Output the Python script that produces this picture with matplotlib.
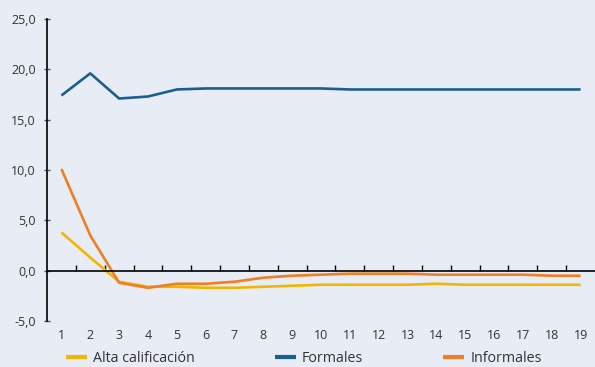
import matplotlib
matplotlib.use("Agg")
import matplotlib.pyplot as plt
from matplotlib.ticker import FixedLocator, FuncFormatter

# Series values by period (1..19)
periods = list(range(1, 20))
alta_calificacion = [3.8, 1.3, -1.1, -1.6, -1.6, -1.7, -1.7, -1.6, -1.5, -1.4,
                     -1.4, -1.4, -1.4, -1.3, -1.4, -1.4, -1.4, -1.4, -1.4]
formales = [17.4, 19.6, 17.1, 17.3, 18.0, 18.1, 18.1, 18.1, 18.1, 18.1,
            18.0, 18.0, 18.0, 18.0, 18.0, 18.0, 18.0, 18.0, 18.0]
informales = [10.1, 3.5, -1.2, -1.7, -1.3, -1.3, -1.1, -0.7, -0.5, -0.4,
              -0.3, -0.3, -0.3, -0.4, -0.4, -0.4, -0.4, -0.5, -0.5]

series_names = ["Alta calificación", "Formales", "Informales"]
series_colors = ["#f2b600", "#1d5f8c", "#ee7f22"]
bg = "#e7ecf5"
text_color = "#333333"

plt.rcParams["font.family"] = ["Open Sans", "DejaVu Sans"]
plt.rcParams["font.size"] = 9

fig = plt.figure(figsize=(5.95, 3.67), dpi=100, facecolor=bg)
ax = fig.add_axes([47 / 595, 46 / 367, 548 / 595, 302 / 367])
ax.set_facecolor(bg)

for vals, name, col in zip([alta_calificacion, formales, informales],
                           series_names, series_colors):
    ax.plot(periods, vals, color=col, lw=1.9, label=name, solid_capstyle="butt")

ax.set_xlim(0.5, 19.5)
ax.set_ylim(-5, 25)
ax.set_yticks(range(-5, 26, 5))
ax.yaxis.set_major_formatter(FuncFormatter(lambda v, p: f"{v:.1f}".replace(".", ",")))

# category axis: labels at bottom, boundary ticks on the zero line
ax.spines["bottom"].set_position(("data", 0))
ax.xaxis.set_major_locator(FixedLocator(periods))
ax.xaxis.set_minor_locator(FixedLocator([p + 0.5 for p in periods[:-1]]))
ax.tick_params(axis="x", which="major", length=0, pad=42, labelsize=9,
               labelcolor=text_color)
ax.tick_params(axis="x", which="minor", direction="in", length=4, width=1,
               color="black")
ax.tick_params(axis="y", direction="inout", length=4, width=1, color="#555555",
               labelsize=9, labelcolor=text_color, pad=6)

for s in ["top", "right"]:
    ax.spines[s].set_visible(False)
ax.spines["bottom"].set_color("black")
ax.spines["left"].set_color("black")
ax.spines["bottom"].set_linewidth(1.2)
ax.spines["left"].set_linewidth(1.2)

leg = fig.legend(loc="center left", bbox_to_anchor=(66 / 595, 8 / 367), ncol=3,
                 frameon=False, borderpad=0, borderaxespad=0, handlelength=1.47,
                 handletextpad=0.42, columnspacing=5.6, fontsize=10.3)
for t in leg.get_texts():
    t.set_color(text_color)
for h in leg.legend_handles:
    h.set_linewidth(3)

fig.savefig("out.png", dpi=100, facecolor=bg)
